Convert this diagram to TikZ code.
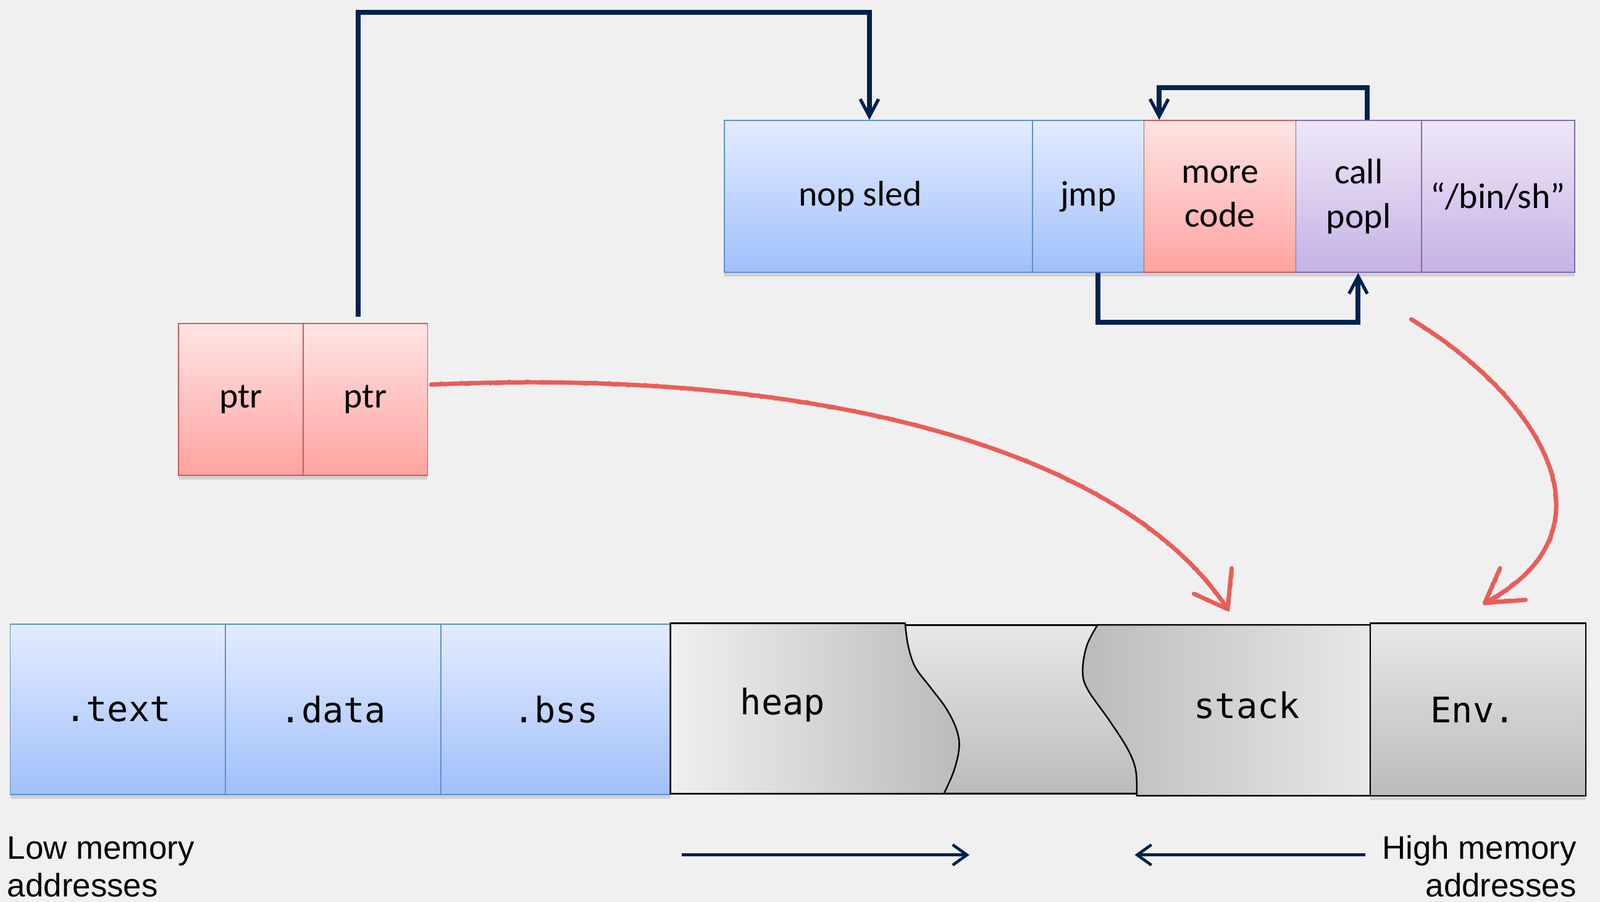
\documentclass[tikz,border=0pt]{standalone}
\usepackage{fontspec}
\newfontfamily\calib{Carlito}
\newfontfamily\monof{DejaVu Sans Mono}
\newfontfamily\helv{Liberation Sans}
\usetikzlibrary{arrows.meta,shadows,decorations.pathmorphing}
\definecolor{bg}{HTML}{F0F0F0}
\definecolor{blueT}{HTML}{E3ECFF}
\definecolor{blueB}{HTML}{A0C0FA}
\definecolor{blueE}{HTML}{5F8FCF}
\definecolor{redT}{HTML}{FFE4E4}
\definecolor{redB}{HTML}{FFA3A0}
\definecolor{redE}{HTML}{CC5A57}
\definecolor{purT}{HTML}{EEE7F7}
\definecolor{purB}{HTML}{C6B2E6}
\definecolor{purE}{HTML}{8668AE}
\definecolor{navy}{HTML}{00224F}
\definecolor{redline}{HTML}{EA5D57}
\definecolor{grayA}{HTML}{F0F0F0}
\definecolor{grayB}{HTML}{BBBBBB}
\definecolor{grayC}{HTML}{E8E8E8}
\tikzset{
  cell/.style={rectangle, draw, line width=1pt, inner sep=0pt, align=center,
    drop shadow={shadow xshift=0pt, shadow yshift=-4pt, opacity=0.12, fill=black}},
  bluecell/.style={cell, draw=blueE, top color=blueT, bottom color=blueB},
  redcell/.style={cell, draw=redE, top color=redT, bottom color=redB},
  purcell/.style={cell, draw=purE, top color=purT, bottom color=purB},
  calibtxt/.style={font=\calib\fontsize{35}{43}\selectfont},
  monotxt/.style={font=\monof\fontsize{34.5}{40}\selectfont},
  helvtxt/.style={font=\helv\fontsize{32}{37}\selectfont, inner sep=0pt},
  navline/.style={draw=navy, line width=4.8pt, line join=miter},
  navtip/.style={-{Straight Barb[length=17pt,width=18pt,line width=3.2pt]}},
  sketch/.style={draw=redline, line width=4.2pt, line cap=round, line join=round},
  rough/.style={draw=redline, line width=2.4pt, line cap=round,
    decorate, decoration={random steps, segment length=3pt, amplitude=1.5pt}}
}
\begin{document}
\begin{tikzpicture}[x=1pt,y=-1pt]
\fill[bg] (0,0) rectangle (1568,884);
\useasboundingbox (0,0) rectangle (1568,884);

% ---------- top row ----------
\node[bluecell, calibtxt, minimum width=302pt, minimum height=149pt] (nop) at (861,192.5) {\hspace*{-36pt}nop sled};
\node[bluecell, calibtxt, minimum width=109pt, minimum height=149pt] (jmp) at (1066.5,192.5) {jmp};
\node[redcell, calibtxt, minimum width=149pt, minimum height=149pt] (more) at (1195.5,192.5) {more\\code};
\node[purcell, calibtxt, minimum width=123pt, minimum height=149pt] (call) at (1331.5,192.5) {call\\popl};
\node[purcell, calibtxt, minimum width=150pt, minimum height=149pt] (binsh) at (1468,192.5) {“/bin/sh”};

% ---------- ptr boxes ----------
\node[redcell, calibtxt, minimum width=122pt, minimum height=149pt] (ptrA) at (236,391.5) {ptr};
\node[redcell, calibtxt, minimum width=122pt, minimum height=149pt] (ptrB) at (358,391.5) {ptr};

% ---------- bottom row ----------
\node[bluecell, monotxt, minimum width=211pt, minimum height=167pt] (text) at (115.5,695.5) {.text};
\node[bluecell, monotxt, minimum width=211pt, minimum height=167pt] (data) at (326.5,695.5) {.data};
\node[bluecell, monotxt, minimum width=225pt, minimum height=167pt] (bss) at (544.5,695.5) {.bss};

% gray middle area
\path[draw=black, line width=1.5pt, top color=grayC, bottom color=grayB] (880,612.6) rectangle (1120,778);
% heap
\path[draw=black, line width=1.5pt, left color=grayA, right color=grayB]
  (657,611) -- plot[smooth, tension=0.6] coordinates {(887,611) (890,633) (897,654) (912,674) (927,694) (937,714) (940,732) (935,755) (925,778)} -- (657,778) -- cycle;
\draw[black, line width=2.2pt] (657,611) -- (887,611);
% stack
\path[draw=black, line width=1.5pt, left color=grayB, right color=grayC]
  (1343,612.5) -- plot[smooth, tension=0.6] coordinates {(1075.6,612.5) (1065,633) (1061,658) (1066,676) (1087,706) (1105,734) (1113,755) (1114,780)} -- (1343,780) -- cycle;
\node[monotxt] (heap) at (767,691) {heap};
\node[monotxt] (stack) at (1222,691) {stack};
\node[cell, draw=black, line width=1.5pt, top color=grayC, bottom color=grayB, monotxt,
  minimum width=211pt, minimum height=169pt] (env) at (1448.5,695.5) {\hspace*{-10pt}Env.};

% ---------- labels ----------
\node[helvtxt, anchor=base west] (low1) at (7,842) {Low memory};
\node[helvtxt, anchor=base west] (low2) at (7,879) {addresses};
\node[helvtxt, anchor=base east] (high1) at (1545,842) {High memory};
\node[helvtxt, anchor=base east] (high2) at (1545,879) {addresses};

% ---------- navy connectors ----------
\coordinate (c1) at (351,12);
\coordinate (c2) at (852,12);
\draw[navline, navtip, shorten <=6pt] (ptrB.north -| c1) -- (c1) -- (c2) -- (nop.north -| c2);

\coordinate (t1) at (1340,86);
\coordinate (t2) at (1136,86);
\draw[navline, navtip] (call.north -| t1) -- (t1) -- (t2) -- (more.north -| t2);

\coordinate (b1) at (1076,316);
\coordinate (b2) at (1331,316);
\draw[navline, navtip] (jmp.south -| b1) -- (b1) -- (b2) -- (call.south -| b2);

\coordinate (ga1) at (668,838);
\coordinate (ga2) at (950,838);
\coordinate (gb1) at (1338,838);
\coordinate (gb2) at (1112,838);
\draw[navline, line width=3.2pt, -{Straight Barb[length=14pt,width=20pt,line width=2.8pt]}] (ga1) -- (ga2);
\draw[navline, line width=3.2pt, -{Straight Barb[length=14pt,width=20pt,line width=2.8pt]}] (gb1) -- (gb2);

% ---------- red sketched arrows ----------
\coordinate (r1s) at ([xshift=3pt, yshift=14.5pt]ptrB.east);
\coordinate (r1e) at (1203,597);
\coordinate (r1a) at (1170,582);
\coordinate (r1b) at (1207,557);
\draw[sketch] (r1s) .. controls (800,360) and (1100,440) .. (r1e);
\draw[rough] (r1s) .. controls (800,360) and (1100,440) .. (r1e);
\draw[sketch] (r1a) -- (r1e) -- (r1b);
\draw[rough] (r1a) -- (r1e) -- (r1b);

\coordinate (r2s) at (1383,313);
\coordinate (r2e) at (1455,591);
\coordinate (r2a) at (1470,557);
\coordinate (r2b) at (1495,588);
\draw[sketch] (r2s) .. controls (1510,390) and (1590,520) .. (r2e);
\draw[rough] (r2s) .. controls (1510,390) and (1590,520) .. (r2e);
\draw[sketch] (r2a) -- (r2e) -- (r2b);
\draw[rough] (r2a) -- (r2e) -- (r2b);
\end{tikzpicture}
\end{document}
